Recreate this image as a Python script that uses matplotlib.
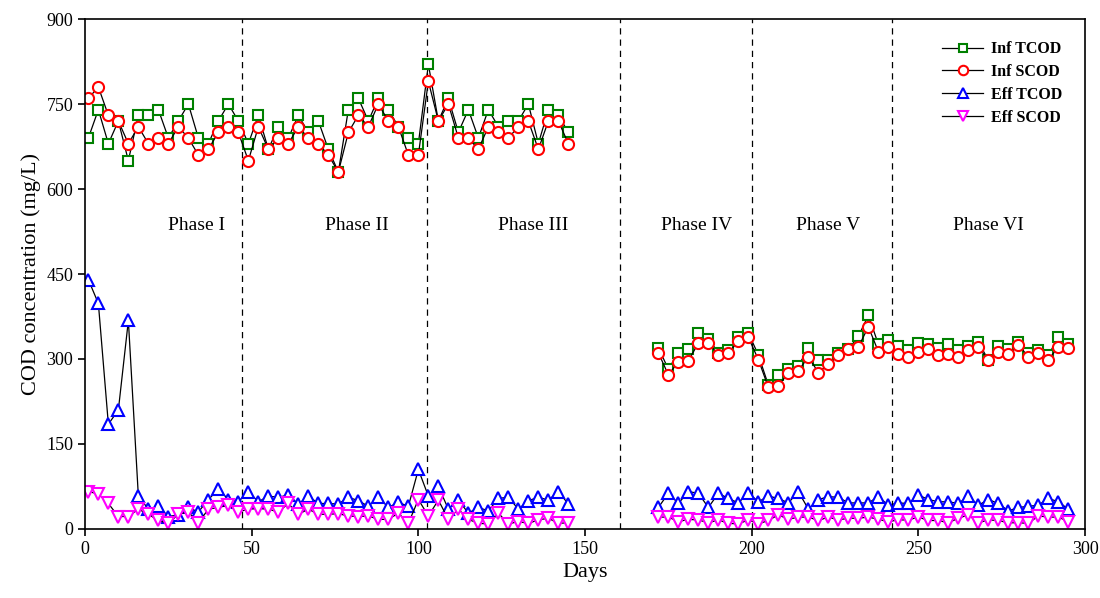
import matplotlib
matplotlib.use("Agg")
import matplotlib.pyplot as plt

plt.rcParams['font.family'] = ['Liberation Serif', 'DejaVu Serif']

# Days - phases I to III and phases IV to VI
days_a = [1, 4, 7, 10, 13, 16, 19, 22, 25, 28, 31, 34, 37, 40, 43, 46, 49, 52, 55, 58,
          61, 64, 67, 70, 73, 76, 79, 82, 85, 88, 91, 94, 97, 100, 103, 106, 109, 112,
          115, 118, 121, 124, 127, 130, 133, 136, 139, 142, 145]
days_b = [172, 175, 178, 181, 184, 187, 190, 193, 196, 199, 202, 205, 208, 211, 214,
          217, 220, 223, 226, 229, 232, 235, 238, 241, 244, 247, 250, 253, 256, 259,
          262, 265, 268, 271, 274, 277, 280, 283, 286, 289, 292, 295]

# Influent TCOD (mg/L)
inf_tcod_a = [690, 740, 680, 720, 650, 730, 730, 740, 690, 720, 750, 690, 680, 720, 750,
              720, 680, 730, 670, 710, 690, 730, 700, 720, 670, 630, 740, 760, 720, 760,
              740, 710, 690, 680, 820, 720, 760, 700, 740, 690, 740, 710, 720, 720, 750,
              680, 740, 730, 700]
inf_tcod_b = [320, 282, 311, 317, 346, 336, 311, 315, 339, 346, 307, 254, 272, 282, 288,
              319, 299, 299, 310, 317, 340, 377, 326, 333, 323, 316, 329, 326, 319, 326,
              315, 323, 330, 298, 323, 317, 330, 310, 315, 307, 338, 326]

# Influent SCOD (mg/L)
inf_scod_a = [760, 780, 730, 720, 680, 710, 680, 690, 680, 710, 690, 660, 670, 700, 710,
              700, 650, 710, 670, 690, 680, 710, 690, 680, 660, 630, 700, 730, 710, 750,
              720, 710, 660, 660, 790, 720, 750, 690, 690, 670, 710, 700, 690, 710, 720,
              670, 720, 720, 680]
inf_scod_b = [311, 272, 295, 297, 328, 329, 307, 311, 331, 338, 299, 250, 252, 276, 279,
              304, 276, 291, 307, 317, 321, 357, 313, 321, 309, 303, 313, 317, 307, 309,
              304, 315, 321, 298, 313, 309, 325, 304, 311, 299, 321, 319]

# Effluent TCOD (mg/L)
eff_tcod_a = [440, 398, 185, 210, 368, 58, 35, 40, 22, 25, 38, 30, 52, 70, 52, 48, 66, 48,
              58, 56, 60, 44, 58, 45, 45, 44, 56, 50, 40, 56, 38, 47, 40, 105, 58, 75, 35,
              51, 28, 38, 32, 54, 56, 35, 50, 56, 51, 66, 44]
eff_tcod_b = [38, 63, 45, 66, 63, 38, 63, 54, 46, 64, 48, 58, 54, 46, 66, 35, 52, 57, 56,
              46, 46, 46, 57, 42, 46, 45, 60, 52, 48, 48, 45, 58, 42, 52, 45, 32, 38, 40,
              42, 54, 48, 35]

# Effluent SCOD (mg/L)
eff_scod_a = [66, 62, 45, 22, 22, 35, 26, 15, 10, 26, 30, 11, 35, 38, 42, 30, 35, 36, 35,
              30, 45, 26, 35, 26, 26, 27, 23, 22, 23, 17, 17, 28, 10, 52, 23, 51, 17, 35,
              17, 10, 9, 28, 9, 13, 10, 16, 19, 10, 11]
eff_scod_b = [21, 21, 13, 17, 16, 11, 16, 10, 9, 16, 9, 15, 25, 17, 21, 21, 15, 21, 16,
              19, 19, 21, 17, 13, 16, 16, 21, 15, 15, 11, 19, 25, 11, 16, 15, 11, 11, 10,
              23, 21, 21, 13]

phase_bounds = [47, 102.5, 160.5, 200, 242]
phase_names = ['Phase I', 'Phase II', 'Phase III', 'Phase IV', 'Phase V', 'Phase VI']
phase_label_x = [33.5, 81.5, 134.5, 183.5, 223, 271]

fig = plt.figure(figsize=(11, 5.98), dpi=100)
ax = fig.add_axes([0.0773, 0.1154, 0.9091, 0.8528])

series = [
    ('Inf TCOD', inf_tcod_a, inf_tcod_b, 's', 'green', 7),
    ('Inf SCOD', inf_scod_a, inf_scod_b, 'o', 'red', 8),
    ('Eff TCOD', eff_tcod_a, eff_tcod_b, '^', 'blue', 9),
    ('Eff SCOD', eff_scod_a, eff_scod_b, 'v', 'magenta', 9),
]

for name, ya, yb, mk, col, ms in series:
    kw = dict(color='black', lw=0.9, marker=mk, markersize=ms, markerfacecolor='white',
              markeredgecolor=col, markeredgewidth=1.5)
    ax.plot(days_a, ya, label=name, **kw)
    ax.plot(days_b, yb, **kw)

for xb in phase_bounds:
    ax.axvline(xb, color='black', lw=0.9, ls=(0, (5, 4)), zorder=0)

for name, xp in zip(phase_names, phase_label_x):
    ax.text(xp, 535, name, fontsize=14, ha='center', va='center')

ax.set_xlim(0, 300)
ax.set_ylim(0, 900)
ax.set_xticks([0, 50, 100, 150, 200, 250, 300])
ax.set_yticks([0, 150, 300, 450, 600, 750, 900])
ax.tick_params(labelsize=13, length=5, width=1.2)
for sp in ax.spines.values():
    sp.set_linewidth(1.2)

ax.set_xlabel('Days', fontsize=16)
ax.set_ylabel('COD concentration (mg/L)', fontsize=16)

ax.legend(loc='upper right', frameon=False, prop={'weight': 'bold', 'size': 11.5},
          handlelength=2.6, borderaxespad=1.0, labelspacing=0.42, handletextpad=0.5,
          markerscale=0.85)

fig.savefig('out.png', dpi=100)
